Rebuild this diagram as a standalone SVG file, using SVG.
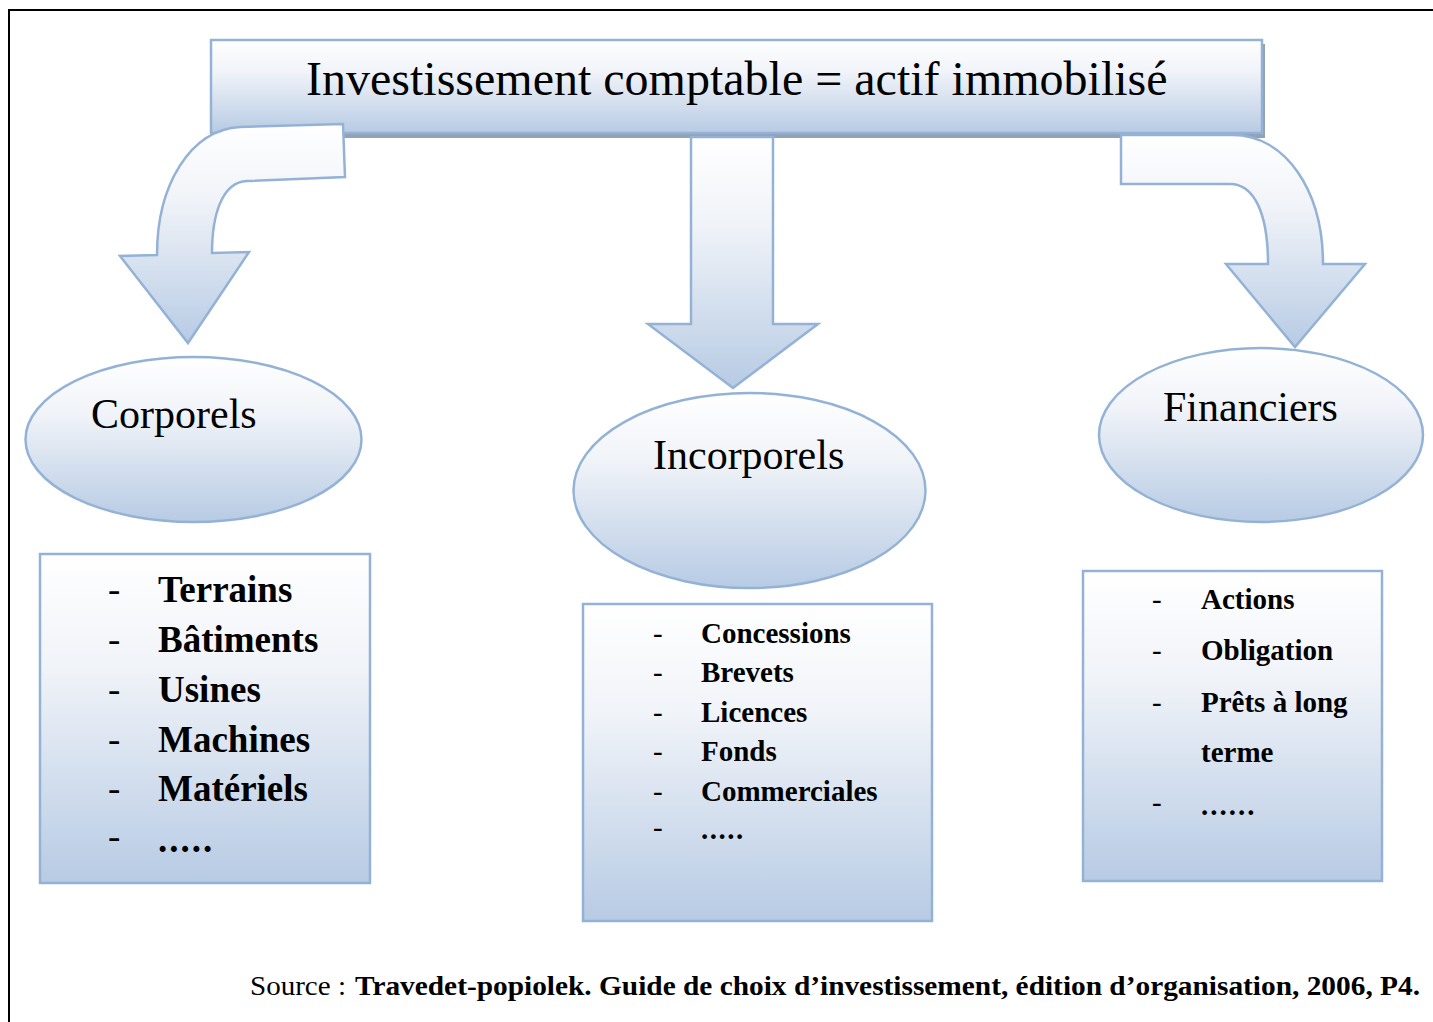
<svg xmlns="http://www.w3.org/2000/svg" width="1433" height="1022" viewBox="0 0 1433 1022">
<defs>
<linearGradient id="g" x1="0" y1="0" x2="0" y2="1">
<stop offset="0" stop-color="#ffffff"/>
<stop offset="0.35" stop-color="#f0f3f8"/>
<stop offset="1" stop-color="#b7cbe4"/>
</linearGradient>
<style>
.shape{fill:url(#g);stroke:#94b2d6;stroke-width:2.5}
.t{font-family:"Liberation Serif","Times New Roman",serif;fill:#000}
.big{font-size:42px}
.l1{font-size:37px;font-weight:bold}
.l2{font-size:29px;font-weight:bold}
.d1{font-size:37px}
.d2{font-size:29px}
</style>
</defs>
<rect width="1433" height="1022" fill="#ffffff"/>
<path d="M9,1022 L9,10 L1433,10" fill="none" stroke="#000" stroke-width="2"/>

<g id="title">
<rect x="214" y="44" width="1051" height="94" fill="#93a1b6"/>
<rect x="211" y="40" width="1051" height="93" class="shape"/>
<text x="306" y="95" class="t" font-size="48">Investissement comptable = actif immobilisé</text>
</g>

<g id="connectors">
<path class="shape" d="M343,124 L240,127 C190,130 157,185 157,255 L120,256 L188,343 L249,252 L212,253 C212,215 222,182 247,181 L345,177 Z"/>
<path class="shape" d="M691,137 L773,137 L773,324 L818,324 L733,388 L648,324 L691,324 Z"/>
<path class="shape" d="M1121,135 L1233,135 C1285,135 1323,190 1323,264 L1365,264 L1295,347 L1226,264 L1268,264 C1268,215 1255,184 1230,184 L1121,184 Z"/>
</g>

<g id="corporels">
<ellipse cx="193.5" cy="439.5" rx="168" ry="82.5" class="shape"/>
<text x="91" y="428" class="t big">Corporels</text>
</g>
<g id="incorporels">
<ellipse cx="749.5" cy="490.5" rx="176" ry="97.5" class="shape"/>
<text x="653" y="469" class="t big">Incorporels</text>
</g>
<g id="financiers">
<ellipse cx="1261" cy="435" rx="162" ry="87" class="shape"/>
<text x="1163" y="421" class="t big">Financiers</text>
</g>

<g id="list-corporels">
<rect x="40" y="554" width="330" height="329" class="shape"/>
<g class="t d1">
<text x="108" y="602">-</text>
<text x="108" y="652">-</text>
<text x="108" y="702">-</text>
<text x="108" y="752">-</text>
<text x="108" y="801">-</text>
<text x="108" y="849">-</text>
</g>
<g class="t l1">
<text x="158" y="602">Terrains</text>
<text x="158" y="652">Bâtiments</text>
<text x="158" y="702">Usines</text>
<text x="158" y="752">Machines</text>
<text x="158" y="801">Matériels</text>
<text x="158" y="852" letter-spacing="2">.....</text>
</g>
</g>

<g id="list-incorporels">
<rect x="583" y="604" width="349" height="317" class="shape"/>
<g class="t d2">
<text x="653" y="643">-</text>
<text x="653" y="682">-</text>
<text x="653" y="722">-</text>
<text x="653" y="761">-</text>
<text x="653" y="801">-</text>
<text x="653" y="837">-</text>
</g>
<g class="t l2">
<text x="701" y="643">Concessions</text>
<text x="701" y="682">Brevets</text>
<text x="701" y="722">Licences</text>
<text x="701" y="761">Fonds</text>
<text x="701" y="801">Commerciales</text>
<text x="701" y="839" letter-spacing="1.5">.....</text>
</g>
</g>

<g id="list-financiers">
<rect x="1083" y="571" width="299" height="310" class="shape"/>
<g class="t d2">
<text x="1152" y="609">-</text>
<text x="1152" y="660">-</text>
<text x="1152" y="712">-</text>
<text x="1152" y="812">-</text>
</g>
<g class="t l2">
<text x="1201" y="609">Actions</text>
<text x="1201" y="660">Obligation</text>
<text x="1201" y="712">Prêts à long</text>
<text x="1201" y="762">terme</text>
<text x="1201" y="815" letter-spacing="2">......</text>
</g>
</g>

<g id="source">
<text x="250" y="995" class="t" font-size="27" textLength="96" lengthAdjust="spacingAndGlyphs">Source :</text>
<text x="355" y="995" class="t" font-size="27" font-weight="bold" textLength="1065" lengthAdjust="spacingAndGlyphs">Travedet-popiolek. Guide de choix d’investissement, édition d’organisation, 2006, P4.</text>
</g>
</svg>
